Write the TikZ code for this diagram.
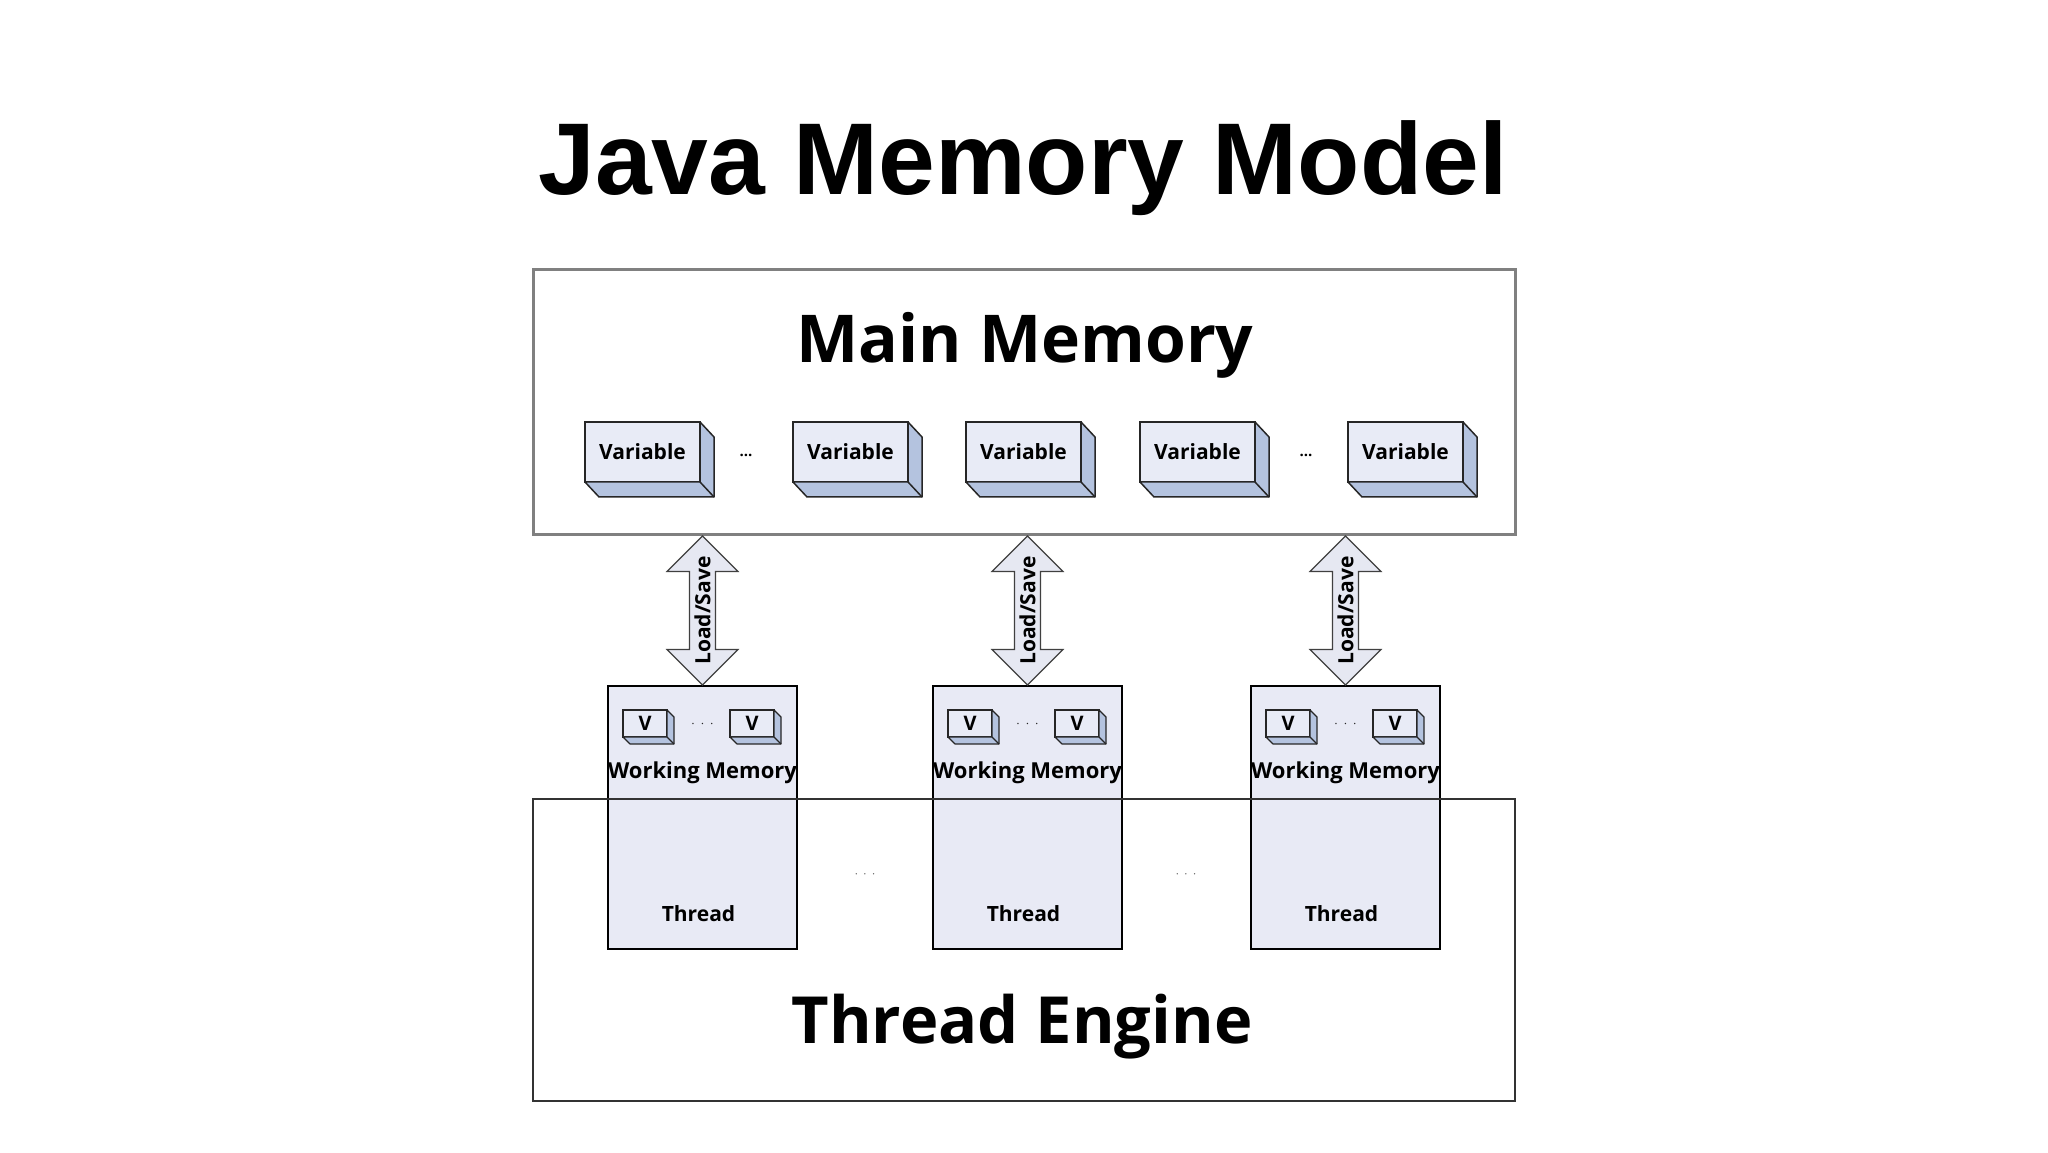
\documentclass[tikz,border=0pt]{standalone}
\usepackage{fontspec}
\setmainfont{Open Sans}
\newfontfamily\arialfont{Liberation Sans}
\usetikzlibrary{shapes.arrows,calc}

\definecolor{facefill}{HTML}{E8EBF6}
\definecolor{sidefill}{HTML}{B4C3DF}
\definecolor{threadfill}{HTML}{E8EAF5}
\definecolor{arrowfill}{HTML}{E6E8F2}

\begin{document}
\begin{tikzpicture}[x=1pt,y=1pt,
    small/.style={font=\bfseries\fontsize{21}{21}\selectfont},
    var/.style={small,draw=black!85,line width=1.5pt,fill=facefill,
      minimum width=115pt,minimum height=60pt,inner sep=0pt,outer sep=0pt},
    vbox/.style={draw=black!85,line width=1.2pt,fill=facefill,
      minimum width=44pt,minimum height=27pt,inner sep=0pt,outer sep=0pt,
      font=\bfseries\fontsize{20}{20}\selectfont},
    side/.style={draw=black!85,fill=sidefill,line join=round},
    thread/.style={draw=black,line width=2pt,fill=threadfill,anchor=north,
      minimum width=189pt,minimum height=263pt,inner sep=0pt,outer sep=0pt},
    lsarrow/.style={small,double arrow,draw=black!75,line width=1.2pt,fill=arrowfill,
      rotate=90,minimum height=149pt,double arrow head extend=22.5pt,
      inner xsep=0pt,inner ysep=4.3pt}]
  \useasboundingbox (0,0) rectangle (2048,1152);

  \node[font=\arialfont\bfseries\fontsize{102}{102}\selectfont,anchor=base]
    (title) at (1023,957) {Java Memory Model};

  % main memory with its variables
  \node[draw=black!50,line width=3pt,minimum width=982pt,minimum height=265pt]
    (mm) at (1024,749.5) {};
  \node[font=\bfseries\fontsize{66}{66}\selectfont,anchor=base] (mmlabel) at (1025,789) {Main Memory};
  \foreach \i/\x in {1/642.5,2/850.5,3/1023.5,4/1197.5,5/1405.5}{
    \node[var] (var\i) at (\x,700) {Variable};
    \draw[side,line width=1.5pt] (var\i.north east) -- ++(14,-15)
      -- ($(var\i.south east)+(14,-15)$) -- ($(var\i.south west)+(14,-15)$)
      -- (var\i.south west) -- (var\i.south east) -- cycle;
    \draw[black!85,line width=1.5pt] (var\i.south east) -- ++(14,-15);
  }
  \node[font=\bfseries\fontsize{15}{15}\selectfont,anchor=base] (dots1) at (746,695) {...};
  \node[font=\bfseries\fontsize{15}{15}\selectfont,anchor=base] (dots2) at (1306,695) {...};

  % threads with working memory
  \foreach \i/\x in {1/702.5,2/1027.5,3/1345.5}{
    \node[thread] (thr\i) at (\x,466) {};
    \foreach \j/\dx in {a/37,b/144}{
      \node[vbox] (v\i\j) at ($(thr\i.north west)+(\dx,-37.5)$) {V};
      \draw[side,line width=1.2pt] (v\i\j.north east) -- ++(7,-7)
        -- ($(v\i\j.south east)+(7,-7)$) -- ($(v\i\j.south west)+(7,-7)$)
        -- (v\i\j.south west) -- (v\i\j.south east) -- cycle;
      \draw[black!85,line width=1.2pt] (v\i\j.south east) -- ++(7,-7);
    }
    \node[black!85,scale=1.4] (vdots\i) at ($(thr\i.north)+(0,-38)$) {$\cdot\,\cdot\,\cdot$};
    \node[small,font=\bfseries\fontsize{22}{22}\selectfont,anchor=base] (wm\i)
      at ($(thr\i.north)+(0,-93)$) {Working Memory};
    \node[small,anchor=base] (tl\i) at ($(thr\i.north)+(-4,-236)$) {Thread};
    \node[lsarrow] (ls\i) at ($(thr\i.north)+(0,75.5)$) {Load/Save};
  }
  \node[black!65,scale=1.3] (tdots1) at (865,277) {$\cdot\,\cdot\,\cdot$};
  \node[black!65,scale=1.3] (tdots2) at (1186,277) {$\cdot\,\cdot\,\cdot$};

  % thread engine
  \node[draw=black!80,line width=2pt,minimum width=982pt,minimum height=302pt]
    (te) at (1024,202) {};
  \node[font=\bfseries\fontsize{65}{65}\selectfont,anchor=base] (telabel) at (1022,109) {Thread Engine};
\end{tikzpicture}
\end{document}
